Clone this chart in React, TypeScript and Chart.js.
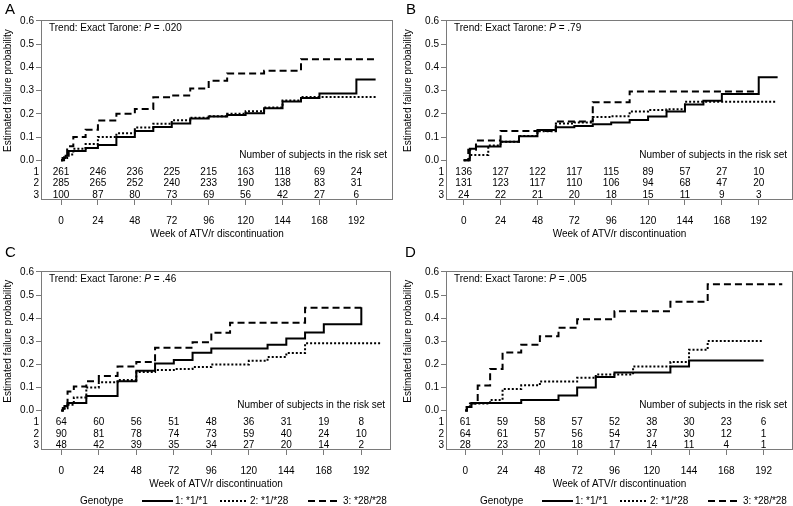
import React, { useEffect, useRef } from "react";
import { Chart, registerables } from "chart.js";

Chart.register(...registerables);

const FONT = '"Liberation Sans", Arial, Helvetica, sans-serif';

// ---------- shared axis values & labels ----------
const weekTicks = [0, 24, 48, 72, 96, 120, 144, 168, 192];
const probTicks = [0, 0.1, 0.2, 0.3, 0.4, 0.5, 0.6];
const genotypeLabels = ["1: *1/*1", "2: *1/*28", "3: *28/*28"];
const riskRowLabels = ["1", "2", "3"];
const xTitle = "Week of ATV/r discontinuation";
const yTitle = "Estimated failure probability";
const riskCaption = "Number of subjects in the risk set";

// ---------- Panel A ----------
const aSolidT = [0, 1, 3, 5, 16, 24, 36, 48, 60, 72, 84, 96, 108, 120, 132, 144, 156, 168, 192, 204.5];
const aSolidP = [0, 0.01, 0.02, 0.04, 0.053, 0.066, 0.1, 0.126, 0.143, 0.158, 0.18, 0.188, 0.195, 0.203, 0.224, 0.253, 0.268, 0.288, 0.348, 0.348];
const aDotT = [0, 2, 4, 8, 16, 24, 36, 48, 60, 72, 84, 96, 108, 120, 132, 144, 156, 204.5];
const aDotP = [0, 0.01, 0.025, 0.05, 0.07, 0.1, 0.116, 0.141, 0.157, 0.172, 0.183, 0.19, 0.2, 0.211, 0.227, 0.257, 0.273, 0.273];
const aDashT = [0, 2, 4, 8, 16, 24, 36, 48, 60, 72, 84, 96, 108, 132, 156, 204.5];
const aDashP = [0, 0.02, 0.06, 0.1, 0.131, 0.171, 0.2, 0.221, 0.271, 0.279, 0.309, 0.342, 0.374, 0.385, 0.435, 0.435];
const aRisk1 = [261, 246, 236, 225, 215, 163, 118, 69, 24];
const aRisk2 = [285, 265, 252, 240, 233, 190, 138, 83, 31];
const aRisk3 = [100, 87, 80, 73, 69, 56, 42, 27, 6];

// ---------- Panel B ----------
const bSolidT = [0, 4, 8, 24, 36, 48, 60, 72, 84, 96, 108, 120, 132, 144, 156, 168, 192, 204.3];
const bSolidP = [0, 0.05, 0.059, 0.08, 0.103, 0.13, 0.142, 0.148, 0.155, 0.163, 0.173, 0.188, 0.21, 0.24, 0.256, 0.285, 0.357, 0.357];
const bDotT = [0, 4, 16, 24, 36, 48, 60, 72, 84, 96, 108, 120, 132, 144, 203];
const bDotP = [0, 0.023, 0.064, 0.08, 0.105, 0.125, 0.158, 0.163, 0.186, 0.19, 0.21, 0.217, 0.22, 0.252, 0.252];
const bDashT = [0, 3, 8, 24, 60, 84, 108, 192];
const bDashP = [0, 0.045, 0.085, 0.126, 0.167, 0.25, 0.296, 0.296];
const bRisk1 = [136, 127, 122, 117, 115, 89, 57, 27, 10];
const bRisk2 = [131, 123, 117, 110, 106, 94, 68, 47, 20];
const bRisk3 = [24, 22, 21, 20, 18, 15, 11, 9, 3];

// ---------- Panel C ----------
const cSolidT = [0, 1, 2, 4, 16, 36, 48, 60, 72, 84, 96, 132, 144, 156, 168, 192];
const cSolidP = [0, 0.01, 0.02, 0.032, 0.063, 0.127, 0.172, 0.203, 0.219, 0.25, 0.268, 0.285, 0.312, 0.338, 0.373, 0.447];
const cDotT = [0, 2, 4, 8, 16, 24, 36, 48, 60, 72, 84, 96, 120, 132, 144, 156, 205];
const cDotP = [0, 0.01, 0.025, 0.056, 0.1, 0.122, 0.132, 0.167, 0.175, 0.18, 0.188, 0.199, 0.215, 0.232, 0.249, 0.291, 0.291];
const cDashT = [0, 1, 2, 4, 8, 16, 24, 36, 48, 60, 84, 96, 108, 156, 192];
const cDashP = [0, 0.01, 0.02, 0.082, 0.104, 0.127, 0.149, 0.19, 0.21, 0.272, 0.296, 0.337, 0.38, 0.445, 0.445];
const cRisk1 = [64, 60, 56, 51, 48, 36, 31, 19, 8];
const cRisk2 = [90, 81, 78, 74, 73, 59, 40, 24, 10];
const cRisk3 = [48, 42, 39, 35, 34, 27, 20, 14, 2];

// ---------- Panel D ----------
const dSolidT = [0, 1, 4, 36, 60, 72, 84, 96, 132, 144, 192];
const dSolidP = [0, 0.015, 0.032, 0.045, 0.065, 0.1, 0.145, 0.165, 0.19, 0.216, 0.216];
const dDotT = [0, 1, 3, 16, 24, 36, 48, 72, 84, 108, 132, 144, 156, 192];
const dDotP = [0, 0.015, 0.03, 0.046, 0.093, 0.109, 0.126, 0.142, 0.156, 0.19, 0.21, 0.263, 0.301, 0.301];
const dDashT = [0, 1, 3, 8, 16, 24, 36, 48, 60, 72, 96, 132, 156, 204];
const dDashP = [0, 0.015, 0.03, 0.108, 0.18, 0.251, 0.285, 0.321, 0.358, 0.395, 0.43, 0.471, 0.547, 0.547];
const dRisk1 = [61, 59, 58, 57, 52, 38, 30, 23, 6];
const dRisk2 = [64, 61, 57, 56, 54, 37, 30, 12, 1];
const dRisk3 = [28, 23, 20, 18, 17, 14, 11, 4, 1];

// ---------- layout constants (positions in value units) ----------
const Y_MIN = -0.171;
const Y_MAX = 0.604;
const riskRowY = [-0.052, -0.101, -0.1525];
const riskCaptionY = 0.023;

const lineStyles = [
  { dash: [] as number[], width: 2 },
  { dash: [2, 2], width: 2 },
  { dash: [7, 4], width: 2 },
];

type Panel = {
  key: string;
  letter: string;
  left: number;
  top: number;
  width: number;
  height: number;
  letterPos: { left: number; top: number };
  xMin: number;
  xMax: number;
  yWidth: number;
  pad: { top: number; right: number; bottom: number };
  pText: string;
  series: { t: number[]; p: number[] }[];
  risk: number[][];
  legend: boolean;
};

const panels: Panel[] = [
  {
    key: "A", letter: "A", left: 0, top: 0, width: 400, height: 250,
    letterPos: { left: 5, top: 1 },
    xMin: -13, xMax: 215.8, yWidth: 41, pad: { top: 20, right: 7, bottom: 0 },
    pText: ".020",
    series: [{ t: aSolidT, p: aSolidP }, { t: aDotT, p: aDotP }, { t: aDashT, p: aDashP }],
    risk: [aRisk1, aRisk2, aRisk3], legend: false,
  },
  {
    key: "B", letter: "B", left: 400, top: 0, width: 393, height: 250,
    letterPos: { left: 406, top: 1 },
    xMin: -11.5, xMax: 214.3, yWidth: 46, pad: { top: 20, right: 0, bottom: 0 },
    pText: ".79",
    series: [{ t: bSolidT, p: bSolidP }, { t: bDotT, p: bDotP }, { t: bDashT, p: bDashP }],
    risk: [bRisk1, bRisk2, bRisk3], legend: false,
  },
  {
    key: "C", letter: "C", left: 0, top: 250, width: 400, height: 256,
    letterPos: { left: 5, top: 244 },
    xMin: -13, xMax: 211, yWidth: 41, pad: { top: 21, right: 9, bottom: 6 },
    pText: ".46",
    series: [{ t: cSolidT, p: cSolidP }, { t: cDotT, p: cDotP }, { t: cDashT, p: cDashP }],
    risk: [cRisk1, cRisk2, cRisk3], legend: true,
  },
  {
    key: "D", letter: "D", left: 400, top: 250, width: 393, height: 256,
    letterPos: { left: 405, top: 244 },
    xMin: -12.4, xMax: 210.9, yWidth: 46, pad: { top: 21, right: 0, bottom: 6 },
    pText: ".005",
    series: [{ t: dSolidT, p: dSolidP }, { t: dDotT, p: dDotP }, { t: dDashT, p: dDashP }],
    risk: [dRisk1, dRisk2, dRisk3], legend: true,
  },
];

function makeOverlay(panel: Panel) {
  return {
    id: "kmOverlay" + panel.key,
    afterDraw(chart: any) {
      const { ctx, chartArea: ca, scales } = chart;
      const x = scales.x;
      const y = scales.y;
      ctx.save();
      // frame
      ctx.strokeStyle = "#7a7a7a";
      ctx.lineWidth = 1;
      ctx.setLineDash([]);
      ctx.strokeRect(ca.left + 0.5, ca.top + 0.5, ca.right - ca.left - 1, ca.bottom - ca.top - 1);

      ctx.fillStyle = "#000";
      ctx.font = `10px ${FONT}`;
      ctx.textBaseline = "middle";

      // trend annotation
      const ty = ca.top + 8.5;
      let tx = ca.left + 8;
      ctx.textAlign = "left";
      const part1 = "Trend: Exact Tarone: ";
      ctx.fillText(part1, tx, ty);
      tx += ctx.measureText(part1).width;
      ctx.font = `italic 10px ${FONT}`;
      ctx.fillText("P", tx, ty);
      tx += ctx.measureText("P").width;
      ctx.font = `10px ${FONT}`;
      ctx.fillText(" = " + panel.pText, tx, ty);

      // risk caption
      ctx.textAlign = "right";
      ctx.fillText(riskCaption, ca.right - 6, y.getPixelForValue(riskCaptionY));

      // risk table
      panel.risk.forEach((row, r) => {
        const ry = y.getPixelForValue(riskRowY[r]);
        ctx.textAlign = "right";
        ctx.fillText(riskRowLabels[r], ca.left - 2, ry);
        ctx.textAlign = "center";
        row.forEach((n, i) => {
          ctx.fillText(String(n), x.getPixelForValue(weekTicks[i]), ry);
        });
      });

      // y title
      ctx.save();
      ctx.translate(8, y.getPixelForValue(0.3));
      ctx.rotate(-Math.PI / 2);
      ctx.textAlign = "center";
      ctx.fillText(yTitle, 0, 0);
      ctx.restore();

      // x title
      ctx.textAlign = "center";
      ctx.fillText(xTitle, (ca.left + ca.right) / 2, ca.bottom + 34);

      // legend
      if (panel.legend) {
        const ly = ca.bottom + 51;
        ctx.textAlign = "left";
        ctx.fillText("Genotype", 80, ly);
        const samples = [
          { x0: 142, x1: 173, tx: 175 },
          { x0: 220, x1: 248, tx: 250 },
          { x0: 308, x1: 340, tx: 343 },
        ];
        samples.forEach((s, i) => {
          ctx.beginPath();
          ctx.strokeStyle = "#000";
          ctx.lineWidth = lineStyles[i].width;
          ctx.setLineDash(lineStyles[i].dash);
          ctx.moveTo(s.x0, ly);
          ctx.lineTo(s.x1, ly);
          ctx.stroke();
          ctx.setLineDash([]);
          ctx.fillText(genotypeLabels[i], s.tx, ly);
        });
      }
      ctx.restore();
    },
  };
}

function PanelChart({ panel }: { panel: Panel }) {
  const ref = useRef<HTMLCanvasElement>(null);
  useEffect(() => {
    const canvas = ref.current;
    if (!canvas) return;
    const chart = new Chart(canvas, {
      type: "line",
      data: {
        datasets: panel.series.map((s, i) => ({
          label: genotypeLabels[i],
          data: s.t.map((t, k) => ({ x: t, y: s.p[k] })),
          stepped: "before" as const,
          borderColor: "#000",
          borderWidth: lineStyles[i].width,
          borderDash: lineStyles[i].dash,
          pointRadius: 0,
          fill: false,
          tension: 0,
        })),
      },
      options: {
        animation: false,
        responsive: false,
        maintainAspectRatio: false,
        devicePixelRatio: 1,
        events: [],
        layout: { padding: { left: 0, ...panel.pad } },
        plugins: { legend: { display: false }, tooltip: { enabled: false } },
        scales: {
          x: {
            type: "linear",
            min: panel.xMin,
            max: panel.xMax,
            afterBuildTicks: (s: any) => {
              s.ticks = weekTicks.map((v) => ({ value: v }));
            },
            afterFit: (s: any) => {
              s.height = 50;
            },
            border: { display: false },
            grid: { display: true, drawOnChartArea: false, drawTicks: true, tickLength: 5, color: "#7a7a7a" },
            ticks: { autoSkip: false, maxRotation: 0, padding: 10, color: "#000", font: { family: FONT, size: 10 } },
          },
          y: {
            type: "linear",
            min: Y_MIN,
            max: Y_MAX,
            afterBuildTicks: (s: any) => {
              s.ticks = probTicks.map((v) => ({ value: v }));
            },
            afterFit: (s: any) => {
              s.width = panel.yWidth;
            },
            border: { display: false },
            grid: { display: true, drawOnChartArea: false, drawTicks: true, tickLength: 5, color: "#7a7a7a" },
            ticks: {
              padding: 2,
              color: "#000",
              font: { family: FONT, size: 10 },
              callback: (v: any) => Number(v).toFixed(1),
            },
          },
        },
      },
      plugins: [makeOverlay(panel)],
    } as any);
    return () => chart.destroy();
  }, [panel]);
  return (
    <div style={{ position: "absolute", left: panel.left, top: panel.top, width: panel.width, height: panel.height }}>
      <canvas ref={ref} width={panel.width} height={panel.height} style={{ display: "block", width: panel.width, height: panel.height }} />
    </div>
  );
}

export default function App() {
  return (
    <div style={{ position: "absolute", left: 0, top: 0, width: 793, height: 506, background: "#fff", overflow: "hidden" }}>
      {panels.map((p) => (
        <PanelChart key={p.key} panel={p} />
      ))}
      {panels.map((p) => (
        <div
          key={"L" + p.key}
          style={{
            position: "absolute",
            left: p.letterPos.left,
            top: p.letterPos.top,
            fontFamily: FONT,
            fontSize: 15,
            lineHeight: "15px",
            color: "#000",
          }}
        >
          {p.letter}
        </div>
      ))}
    </div>
  );
}
